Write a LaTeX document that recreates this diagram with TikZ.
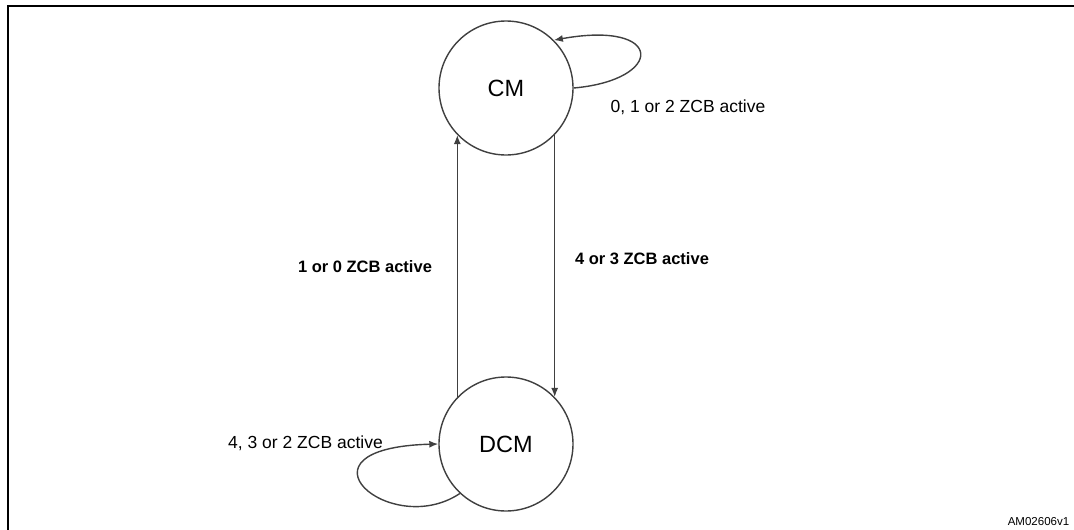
\documentclass[tikz,border=0pt]{standalone}
\usepackage{fontspec}
\setmainfont{Liberation Sans}
\usetikzlibrary{arrows.meta}
\begin{document}
\begin{tikzpicture}[x=1pt,y=-1pt,
  state/.style={circle,draw=black!75,line width=1.4pt,minimum size=134pt,inner sep=0pt,font=\fontsize{23.5}{26}\selectfont},
  conn/.style={draw=black!75,line width=1.4pt,-{Latex[length=9pt,width=7pt]}},
  lbl/.style={inner sep=0pt,font=\fontsize{17.5}{20}\selectfont},
  blbl/.style={inner sep=0pt,font=\fontsize{16.5}{19}\selectfont\bfseries},
  frame/.style={line width=2pt,black}]
\useasboundingbox (0,0) rectangle (1074,530);
\draw[frame] (7.7,531) -- (7.7,5.5) -- (1075,5.5);
\node[state] (cm) at (506,88) {CM};
\node[state] (dcm) at (506,444) {DCM};
\draw[conn] (dcm.136) -- (cm.224);
\draw[conn] (cm.316) -- (dcm.44);
\draw[conn] (cm.0) .. controls (665,80) and (665,20) .. (cm.45);
\draw[conn] (dcm.227) .. controls (390,540) and (285,448) .. (dcm.180);
\node[blbl] (l1) at (365,267) {1 or 0 ZCB active};
\node[blbl] (l2) at (642,259) {4 or 3 ZCB active};
\node[lbl] (l3) at (688,107) {0, 1 or 2 ZCB active};
\node[lbl] (l4) at (305.5,443) {4, 3 or 2 ZCB active};
\node[inner sep=0pt,font=\fontsize{11.5}{13}\selectfont] (id) at (1038.5,522) {AM02606v1};
\end{tikzpicture}
\end{document}
